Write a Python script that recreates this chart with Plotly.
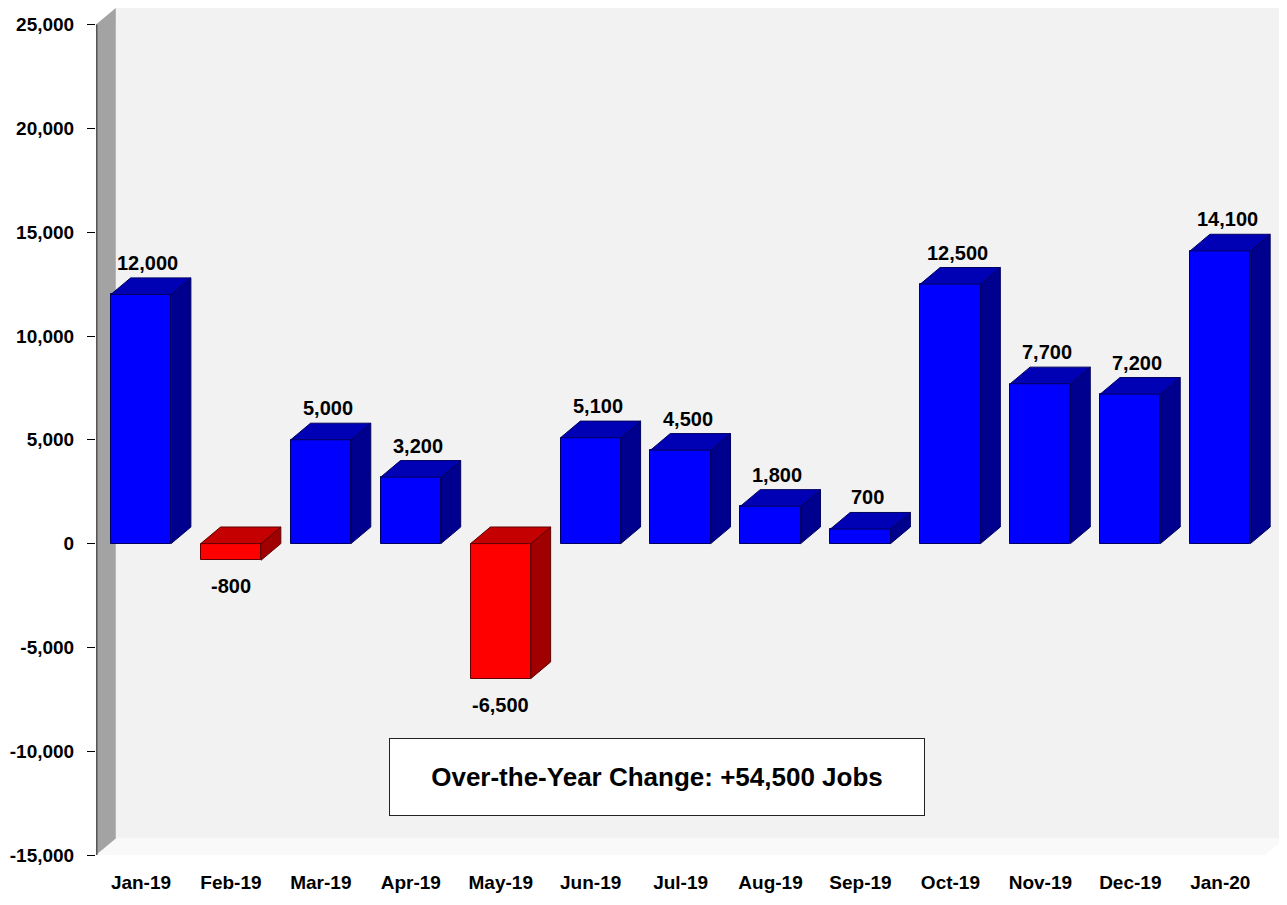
import plotly.graph_objects as go

# ---------------- data ----------------
months = ["Jan-19", "Feb-19", "Mar-19", "Apr-19", "May-19", "Jun-19", "Jul-19",
          "Aug-19", "Sep-19", "Oct-19", "Nov-19", "Dec-19", "Jan-20"]
changes = [12000, -800, 5000, 3200, -6500, 5100, 4500, 1800, 700, 12500, 7700, 7200, 14100]
value_labels = ["12,000", "-800", "5,000", "3,200", "-6,500", "5,100", "4,500",
                "1,800", "700", "12,500", "7,700", "7,200", "14,100"]
y_tick_values = [-15000, -10000, -5000, 0, 5000, 10000, 15000, 20000, 25000]
y_tick_labels = ["-15,000", "-10,000", "-5,000", "0", "5,000", "10,000", "15,000", "20,000", "25,000"]
summary_text = "Over-the-Year Change: +54,500 Jobs"
summary_pos = (5.74, -11240)

# ---------------- style ----------------
FONT = "Liberation Sans, Arial, sans-serif"
BAR_W = 0.67
DX = 0.22      # depth offset in category units
DY = 800       # depth offset in value units
Y_MIN, Y_MAX = -15000, 25000
X_MIN, X_MAX = -0.5, len(months) - 0.5

POS = dict(front="#0000FF", top="#0000B4", side="#00008E", edge="#000060")
NEG = dict(front="#FF0000", top="#C40000", side="#A00000", edge="#600000")

fig = go.Figure()

xs = list(range(len(months)))

# side and top faces
for i, v in zip(xs, changes):
    c = POS if v >= 0 else NEG
    x0, x1 = i - BAR_W / 2, i + BAR_W / 2
    top_y = max(v, 0)
    low_y = min(v, 0)
    fig.add_trace(go.Scatter(
        x=[x1, x1 + DX, x1 + DX, x1, x1],
        y=[low_y, low_y + DY, top_y + DY, top_y, low_y],
        fill="toself", fillcolor=c["side"], mode="lines",
        line=dict(color=c["edge"], width=1), hoverinfo="skip", showlegend=False))
    fig.add_trace(go.Scatter(
        x=[x0, x0 + DX, x1 + DX, x1, x0],
        y=[top_y, top_y + DY, top_y + DY, top_y, top_y],
        fill="toself", fillcolor=c["top"], mode="lines",
        line=dict(color=c["edge"], width=1), hoverinfo="skip", showlegend=False))

# front faces
fig.add_trace(go.Bar(
    x=xs, y=changes, width=BAR_W,
    marker=dict(color=[POS["front"] if v >= 0 else NEG["front"] for v in changes],
                line=dict(color=[POS["edge"] if v >= 0 else NEG["edge"] for v in changes], width=1)),
    hoverinfo="skip", showlegend=False))

# walls (below traces)
shapes = []
shapes.append(dict(type="path", xref="x", yref="y", layer="below",
                   path=f"M {X_MIN+DX},{Y_MIN+DY} L {X_MAX+DX},{Y_MIN+DY} L {X_MAX+DX},{Y_MAX+DY} L {X_MIN+DX},{Y_MAX+DY} Z",
                   fillcolor="#F2F2F2", line=dict(width=0)))
shapes.append(dict(type="path", xref="x", yref="y", layer="below",
                   path=f"M {X_MIN},{Y_MIN} L {X_MAX},{Y_MIN} L {X_MAX+DX},{Y_MIN+DY} L {X_MIN+DX},{Y_MIN+DY} Z",
                   fillcolor="#F9F9F9", line=dict(width=0)))
shapes.append(dict(type="path", xref="x", yref="y", layer="below",
                   path=f"M {X_MIN},{Y_MIN} L {X_MIN+DX},{Y_MIN+DY} L {X_MIN+DX},{Y_MAX+DY} L {X_MIN},{Y_MAX} Z",
                   fillcolor="#A3A3A3", line=dict(width=0)))
shapes.append(dict(type="line", xref="x", yref="y", layer="above",
                   x0=X_MIN, x1=X_MIN, y0=Y_MIN, y1=Y_MAX,
                   line=dict(color="#555555", width=3)))

LABEL_FONT = dict(family=FONT, size=20, color="black", weight="bold")
annotations = []
for i, v, t in zip(xs, changes, value_labels):
    if v >= 0:
        annotations.append(dict(x=i + DX * 0.35, y=v + DY, xref="x", yref="y", text=t,
                                showarrow=False, yanchor="bottom", yshift=2, font=LABEL_FONT))
    else:
        annotations.append(dict(x=i, y=v, xref="x", yref="y", text=t,
                                showarrow=False, yanchor="top", yshift=-13, font=LABEL_FONT))

annotations.append(dict(x=summary_pos[0], y=summary_pos[1], xref="x", yref="y",
                        text=summary_text, showarrow=False,
                        width=522, height=64, bgcolor="white", bordercolor="#222222",
                        borderwidth=1, borderpad=6,
                        font=dict(family=FONT, size=26, color="black", weight="bold")))

fig.update_layout(
    width=1279, height=897,
    margin=dict(l=88, r=2, t=0, b=50, autoexpand=False),
    paper_bgcolor="white", plot_bgcolor="white",
    shapes=shapes, annotations=annotations,
    bargap=0, showlegend=False,
    xaxis=dict(range=[X_MIN, X_MAX + DX], tickvals=xs, ticktext=months,
               showgrid=False, zeroline=False, showline=False, ticks="",
               ticklabelstandoff=14, automargin=False,
               tickfont=dict(family=FONT, size=19, color="black", weight="bold")),
    yaxis=dict(range=[Y_MIN, Y_MAX + DY], tickvals=y_tick_values, ticktext=y_tick_labels,
               showgrid=False, zeroline=False, showline=False,
               ticks="outside", ticklen=8, tickcolor="black", tickwidth=1,
               ticklabelstandoff=9, automargin=False,
               tickfont=dict(family=FONT, size=19, color="black", weight="bold")),
)

fig.write_html("out.html")
